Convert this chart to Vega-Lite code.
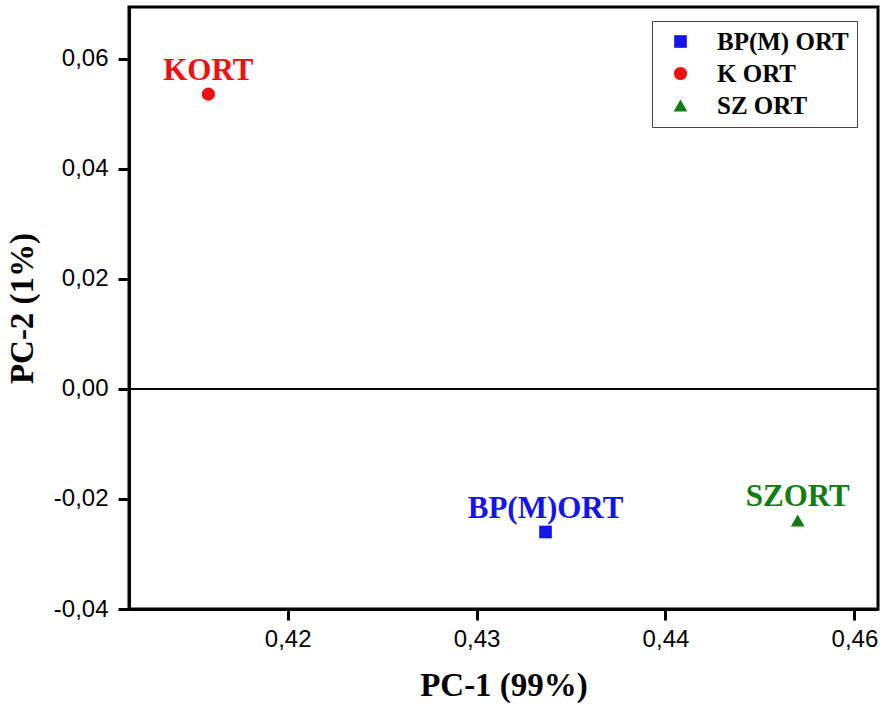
{
  "$schema": "https://vega.github.io/schema/vega-lite/v6.json",
  "width": 749,
  "height": 602,
  "autosize": {"type": "none"},
  "padding": {"left": 129, "top": 7, "right": 7, "bottom": 104},
  "background": "white",
  "config": {
    "view": {"stroke": "black", "strokeWidth": 3},
    "axis": {
      "domainColor": "black", "domainWidth": 3, "tickColor": "black", "tickWidth": 3, "tickSize": 11,
      "grid": false, "labelFont": "Liberation Sans", "labelFontSize": 24, "labelColor": "black",
      "titleFont": "Liberation Serif", "titleFontWeight": "bold", "titleFontSize": 33, "titleColor": "black"
    }
  },
  "data": {
    "values": [
      {"pc1": 0.4158, "pc2": 0.0536, "sample": "KORT", "group": "K ORT"},
      {"pc1": 0.43365, "pc2": -0.026, "sample": "BP(M)ORT", "group": "BP(M) ORT"},
      {"pc1": 0.4470, "pc2": -0.0239, "sample": "SZORT", "group": "SZ ORT"}
    ]
  },
  "layer": [
    {
      "data": {"values": [{"z": 0}]},
      "mark": {"type": "rule", "color": "black", "strokeWidth": 2},
      "encoding": {"y": {"field": "z", "type": "quantitative"}}
    },
    {
      "mark": {"type": "point", "filled": true, "opacity": 1},
      "encoding": {
        "x": {
          "field": "pc1", "type": "quantitative",
          "scale": {"domain": [0.4116, 0.45125], "nice": false, "zero": false},
          "axis": {
            "values": [0.42, 0.43, 0.44, 0.45],
            "labelExpr": "datum.value > 0.449 ? '0,46' : replace(format(datum.value, '.2f'), '.', ',')",
            "labelPadding": 7,
            "title": "PC-1 (99%)", "titlePadding": 18
          }
        },
        "y": {
          "field": "pc2", "type": "quantitative",
          "scale": {"domain": [-0.04, 0.06945], "nice": false, "zero": false},
          "axis": {
            "values": [-0.04, -0.02, 0, 0.02, 0.04, 0.06],
            "labelExpr": "datum.value < 0 ? '-' + replace(format(-datum.value, '.2f'), '.', ',') : replace(format(datum.value, '.2f'), '.', ',')",
            "labelPadding": 10,
            "title": "PC-2 (1%)", "titlePadding": 14
          }
        },
        "color": {
          "field": "group", "type": "nominal",
          "scale": {"domain": ["BP(M) ORT", "K ORT", "SZ ORT"], "range": ["#1414f0", "#ee1111", "#137d13"]},
          "legend": {
            "title": null, "orient": "none", "legendX": 523, "legendY": 14,
            "padding": 8, "strokeColor": "#444", "fillColor": "white",
            "labelFont": "Liberation Serif", "labelFontWeight": "bold", "labelFontSize": 25,
            "symbolSize": 170, "symbolOffset": 8, "labelOffset": 24, "rowPadding": 6, "symbolStrokeWidth": 0,
            "encode": {"labels": {"update": {"fill": {"signal": "scale('color', datum.value)"}}}}
          }
        },
        "shape": {
          "field": "group", "type": "nominal",
          "scale": {"domain": ["BP(M) ORT", "K ORT", "SZ ORT"], "range": ["square", "circle", "triangle-up"]},
          "legend": null
        },
        "size": {
          "field": "group", "type": "nominal",
          "scale": {"domain": ["BP(M) ORT", "K ORT", "SZ ORT"], "range": [160, 190, 300]},
          "legend": null
        }
      }
    },
    {
      "mark": {"type": "text", "font": "Liberation Serif", "fontWeight": "bold", "fontSize": 31, "dy": -14, "baseline": "alphabetic", "align": "center"},
      "encoding": {
        "x": {"field": "pc1", "type": "quantitative"},
        "y": {"field": "pc2", "type": "quantitative"},
        "text": {"field": "sample"},
        "color": {"field": "group", "type": "nominal", "legend": null}
      }
    }
  ]
}
